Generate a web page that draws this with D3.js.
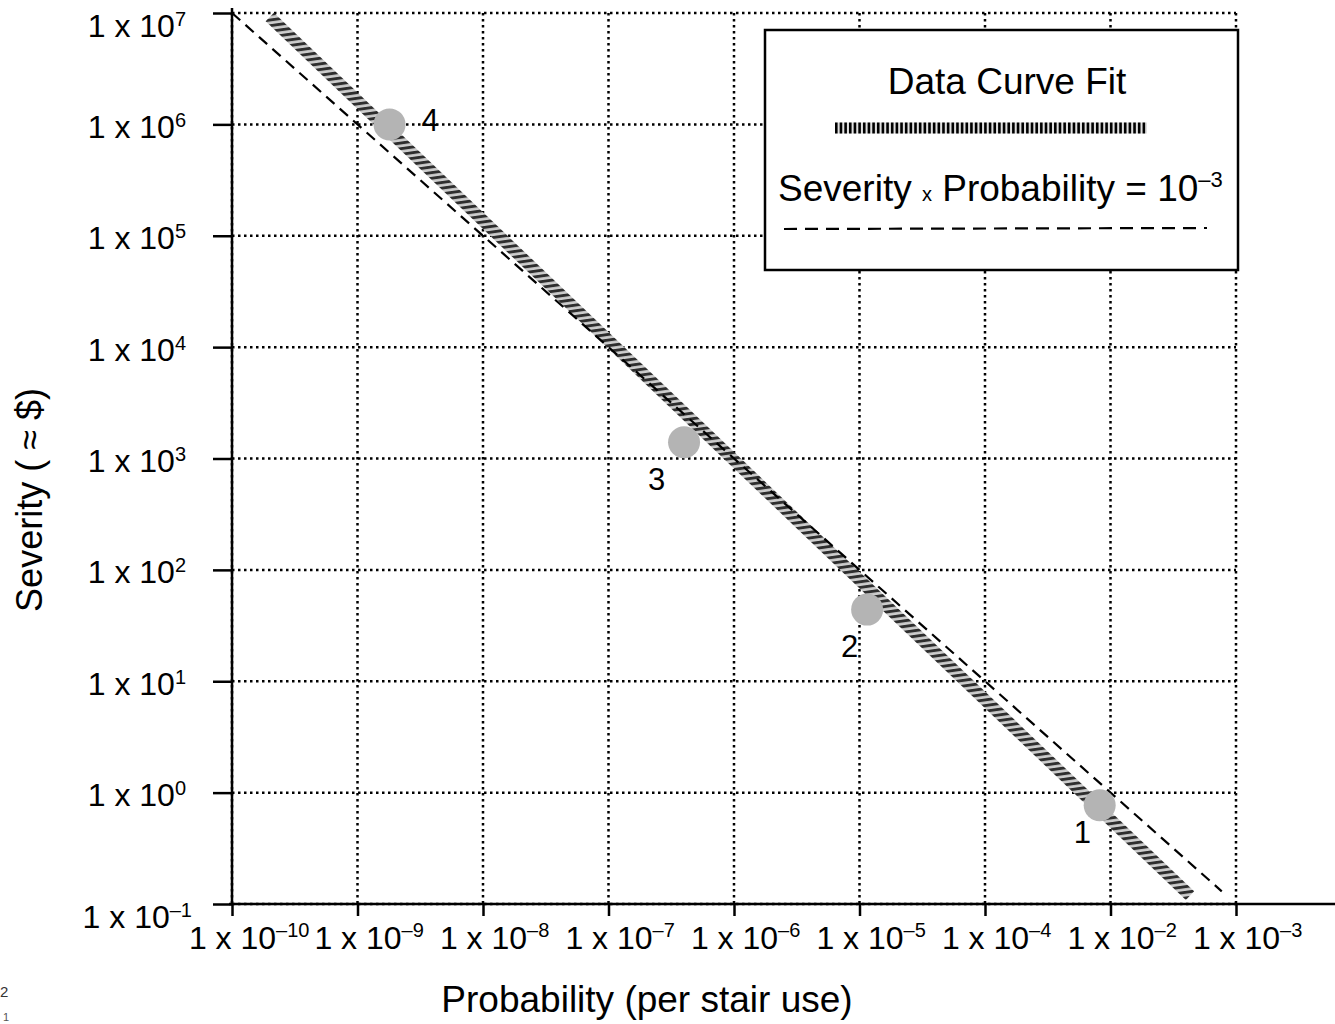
<!DOCTYPE html>
<html>
<head>
<meta charset="utf-8">
<script src="https://cdn.jsdelivr.net/npm/d3@7"></script>
<style>
  html, body { margin: 0; padding: 0; background: #fff; }
  svg { display: block; font-family: Arial, "Liberation Sans", Helvetica, sans-serif; }
</style>
</head>
<body>
<svg id="chart" width="1335" height="1024"></svg>
<script>
// ---- data ----
const xTickValues = [1e-10, 1e-9, 1e-8, 1e-7, 1e-6, 1e-5, 1e-4, 1e-3, 1e-2];
const xTickExponents = ["\u201310", "\u20139", "\u20138", "\u20137", "\u20136", "\u20135", "\u20134", "\u20132", "\u20133"];
const yTickValues = [1e-1, 1e0, 1e1, 1e2, 1e3, 1e4, 1e5, 1e6, 1e7];
const yTickExponents = ["\u20131", "0", "1", "2", "3", "4", "5", "6", "7"];

const pointLabels = ["1", "2", "3", "4"];
const pointProbability = [8.2e-4, 1.15e-5, 4.0e-7, 1.8e-9];
const pointSeverity = [0.77, 44, 1400, 1.0e6];

// data curve fit (end points of fitted line)
const fitProbability = [2.0e-10, 4.3e-3];
const fitSeverity = [9.2e6, 0.119];

// Severity x Probability = 1e-3 reference line
const refProbability = [1e-10, 7.7e-3];
const refSeverity = [1e7, 0.13];

// ---- chart ----
const svg = d3.select("#chart");
const x = d3.scaleLog().domain([1e-10, 1e-2]).range([232, 1236]);
const y = d3.scaleLog().domain([1e-1, 1e7]).range([904, 13]);

const defs = svg.append("defs");
const hatch = defs.append("pattern").attr("id", "hatch")
  .attr("patternUnits", "userSpaceOnUse").attr("width", 8).attr("height", 5.6)
  .attr("patternTransform", "rotate(-8)");
hatch.append("rect").attr("width", 8).attr("height", 5.6).attr("fill", "#cdcdcd");
hatch.append("rect").attr("width", 8).attr("height", 2.9).attr("fill", "#2e2e2e");

// grid
const grid = svg.append("g").attr("stroke", "#000").attr("stroke-width", 2.5)
  .attr("stroke-dasharray", "2.5,3.5").attr("fill", "none");
grid.selectAll("line.v").data(xTickValues).join("line").attr("class", "v")
  .attr("x1", d => x(d)).attr("x2", d => x(d))
  .attr("y1", y(1e7)).attr("y2", y(1e-1));
grid.selectAll("line.h").data(yTickValues).join("line").attr("class", "h")
  .attr("x1", x(1e-10)).attr("x2", x(1e-2))
  .attr("y1", d => y(d)).attr("y2", d => y(d));

// fit band
const lineGen = d3.line().x(d => x(d[0])).y(d => y(d[1]));
const fitData = fitProbability.map((p, i) => [p, fitSeverity[i]]);
svg.append("path").attr("d", lineGen(fitData))
  .attr("stroke", "url(#hatch)").attr("stroke-width", 12).attr("fill", "none");

// reference dashed line
const refData = refProbability.map((p, i) => [p, refSeverity[i]]);
svg.append("path").attr("d", lineGen(refData))
  .attr("stroke", "#000").attr("stroke-width", 2.2).attr("stroke-dasharray", "11,7").attr("fill", "none");

// points
const pts = pointLabels.map((l, i) => ({ l, p: pointProbability[i], s: pointSeverity[i] }));
svg.selectAll("circle.pt").data(pts).join("circle").attr("class", "pt")
  .attr("cx", d => x(d.p)).attr("cy", d => y(d.s)).attr("r", 16).attr("fill", "#b4b4b4");

// point labels
const labelOffset = { "1": [-26, 38], "2": [-26, 47], "3": [-36, 48], "4": [32, 7] };
svg.selectAll("text.pl").data(pts).join("text").attr("class", "pl")
  .attr("x", d => x(d.p) + labelOffset[d.l][0]).attr("y", d => y(d.s) + labelOffset[d.l][1])
  .attr("font-size", 31).attr("fill", "#000").text(d => d.l);

// axes
const xAxis = d3.axisBottom(x).tickValues(xTickValues).tickSize(12).tickSizeOuter(0).tickFormat(() => "");
const gx = svg.append("g").attr("transform", `translate(0,${y(1e-1)})`).call(xAxis);
gx.select(".domain").remove();
gx.selectAll(".tick line").attr("stroke", "#000").attr("stroke-width", 2.5);
gx.selectAll(".tick").each(function (d, i) {
  const g = d3.select(this);
  const base = g.append("text").attr("x", 0).attr("y", 45).attr("text-anchor", "middle")
    .attr("font-size", 32).attr("fill", "#000").text("1 x 10");
  const w = base.node().getComputedTextLength();
  g.append("text").attr("x", w / 2).attr("y", 33).attr("text-anchor", "start")
    .attr("font-size", 20).attr("fill", "#000").text(xTickExponents[i]);
});
svg.append("line").attr("x1", 229).attr("x2", 1335).attr("y1", y(1e-1)).attr("y2", y(1e-1))
  .attr("stroke", "#000").attr("stroke-width", 2.5);

const yAxis = d3.axisLeft(y).tickValues(yTickValues).tickSize(19).tickSizeOuter(0).tickFormat(() => "");
const gy = svg.append("g").attr("transform", `translate(${x(1e-10)},0)`).call(yAxis);
gy.select(".domain").remove();
gy.selectAll(".tick line").attr("stroke", "#000").attr("stroke-width", 2.5);
gy.selectAll(".tick").each(function (d, i) {
  const g = d3.select(this);
  const last = (i === 0 || i === yTickValues.length - 1);
  const t = g.append("text").attr("x", i === 0 ? -40 : -46).attr("y", last ? 23 : 13).attr("text-anchor", "end")
    .attr("font-size", 32).attr("fill", "#000");
  t.append("tspan").text("1 x 10");
  t.append("tspan").attr("font-size", 20).attr("dy", -11).text(yTickExponents[i]);
});
svg.append("line").attr("x1", x(1e-10)).attr("x2", x(1e-10)).attr("y1", 8).attr("y2", y(1e-1) + 1)
  .attr("stroke", "#000").attr("stroke-width", 2.5);

// axis titles
svg.append("text").attr("x", 647).attr("y", 1012).attr("text-anchor", "middle")
  .attr("font-size", 37).attr("fill", "#000").text("Probability (per stair use)");
svg.append("text").attr("transform", "translate(42,500) rotate(-90)").attr("text-anchor", "middle")
  .attr("font-size", 36).attr("fill", "#000").text("Severity ( \u2248 $)");

// legend
const lg = svg.append("g");
lg.append("rect").attr("x", 765).attr("y", 30).attr("width", 473).attr("height", 240)
  .attr("fill", "#fff").attr("stroke", "#000").attr("stroke-width", 2.5);
lg.append("text").attr("x", 1007).attr("y", 94).attr("text-anchor", "middle")
  .attr("font-size", 37).attr("fill", "#000").text("Data Curve Fit");
lg.append("line").attr("x1", 835).attr("x2", 1147).attr("y1", 128).attr("y2", 128)
  .attr("stroke", "#e0e0e0").attr("stroke-width", 11);
lg.append("line").attr("x1", 835).attr("x2", 1147).attr("y1", 128).attr("y2", 128)
  .attr("stroke", "#000").attr("stroke-width", 11).attr("stroke-dasharray", "2.6,2.06");
const lt = lg.append("text").attr("x", 778).attr("y", 201).attr("font-size", 37).attr("fill", "#000");
lt.append("tspan").text("Severity ");
lt.append("tspan").attr("font-size", 20).text("x");
lt.append("tspan").text(" Probability = 10");
lt.append("tspan").attr("font-size", 22).attr("dy", -14).text("\u20133");
lg.append("line").attr("x1", 784).attr("x2", 1207).attr("y1", 229).attr("y2", 228)
  .attr("stroke", "#000").attr("stroke-width", 2.2).attr("stroke-dasharray", "13,8");

// cropped fragments at lower-left edge
svg.append("text").attr("x", 0).attr("y", 997).attr("font-size", 15).attr("fill", "#333").text("2");
svg.append("text").attr("x", 3).attr("y", 1021).attr("font-size", 11).attr("fill", "#555").text("1");
</script>
</body>
</html>
